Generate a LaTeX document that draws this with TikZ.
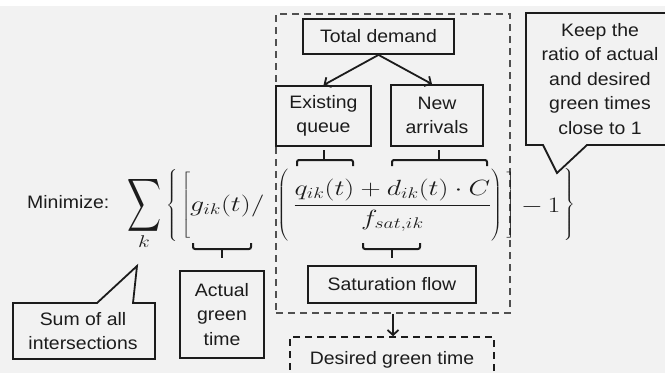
\RequirePackage{fix-cm}
\documentclass[tikz,border=0pt]{standalone}
\usepackage[no-math]{fontspec}
\setmainfont{Liberation Sans}[FakeStretch=1.08]
\usepackage{graphicx}
\usetikzlibrary{arrows.meta}

\definecolor{bg}{RGB}{242,242,242}
\definecolor{ink}{RGB}{28,28,28}
\definecolor{dashgray}{RGB}{80,80,80}

% widened math, and tall delimiters of a given total height
\newcommand\wide[1]{\scalebox{1.27}[1]{#1}}
\newcommand\tallfence[2]{\wide{$\delimiterfactor=1000\delimitershortfall=0pt\left#1\vcenter{\hbox{\rule{0pt}{#2}}}\right.$}}

\tikzset{
  lbl/.style={text=ink, align=center, inner sep=0pt, font=\fontsize{18}{24.5}\selectfont},
  box/.style={lbl, draw=ink, line width=1.8pt},
  mathnode/.style={inner sep=0pt, text=ink, font=\fontsize{22}{26}\selectfont},
  brace/.style={draw=ink, line width=2pt, rounded corners=2pt},
  link/.style={draw=ink, line width=1.8pt, -{Straight Barb[length=5pt,width=11pt]}},
  frame/.style={draw=dashgray, line width=2pt, dash pattern=on 7pt off 5pt},
  callout/.style={draw=ink, line width=1.8pt, line join=miter},
}

\begin{document}
\begin{tikzpicture}[x=1pt,y=-1pt]
\useasboundingbox (0,0) rectangle (665,373);
\clip (0,0) rectangle (665,373);
\fill[bg] (0,0) rectangle (665,373);
\fill[white] (0,0) rectangle (665,6);

% dashed frame around the desired-green-time term
\node[frame, minimum width=234pt, minimum height=299pt] (demand) at (393,163.5) {};

% demand breakdown
\node[box, minimum width=151pt, minimum height=35pt] (total) at (378.5,36.5) {Total demand};
\node[box, minimum width=95pt, minimum height=60pt] (queue) at (323.5,116) {Existing\\queue};
\node[box, minimum width=92pt, minimum height=61pt] (arrivals) at (437,115.5) {New\\arrivals};
\draw[link] (total.south) -- (queue.north);
\draw[link] (total.south) -- ([xshift=-5pt]arrivals.north);

% objective function
\node[lbl, anchor=base west] (minlabel) at (27,208) {Minimize:};
\node[mathnode] (sigma) at (145,205) {\resizebox{34pt}{50pt}{$\displaystyle\sum$}};
\node[mathnode, font=\fontsize{17}{20}\selectfont] (sumidx) at (144,242) {\wide{$k$}};
\node[mathnode] (lbrace) at (172.5,205) {\tallfence{\{}{70pt}};
\node[mathnode] (lbrack) at (186.5,205) {\tallfence{[}{66pt}};
\node[mathnode, anchor=base west] (green) at (190,211) {\wide{$g_{ik}(t)/$}};
\node[mathnode] (lparen) at (283.5,205) {\tallfence{(}{70pt}};
\node[mathnode, anchor=base] (ratio) at (392.5,210.5)
  {\wide{$\displaystyle\frac{q_{ik}(t)+d_{ik}(t)\cdot C}{f_{sat,ik}}$}};
\node[mathnode] (rparen) at (497.5,205) {\tallfence{)}{70pt}};
\node[mathnode] (rbrack) at (511.5,205) {\tallfence{]}{66pt}};
\node[mathnode, anchor=base west] (minusone) at (521,212) {\wide{$-\,1$}};
\node[mathnode] (rbrace) at (570,204) {\tallfence{\}}{68pt}};

% braces tying terms to their labels
\draw[brace] (297,166) -- (297,160) -- (353,160) -- (353,166);
\draw[brace] (queue.south |- 0,150) -- (queue.south |- 0,160);
\draw[brace] (392,166) -- (392,160) -- (487,160) -- (487,166);
\draw[brace] (439,150) -- (439,160);
\draw[brace] (193,243) -- (193,249) -- (251,249) -- (251,243);
\draw[brace] (222,249) -- (222,258);
\draw[brace] (363,243) -- (363,249) -- (420,249) -- (420,243);
\draw[brace] (392,249) -- (392,258);

\node[box, minimum width=168pt, minimum height=37pt] (sat) at (392,284.5) {Saturation flow};
\node[box, minimum width=84pt, minimum height=87pt] (actual) at (222,314.5) {Actual\\green\\time};

% desired green time
\node[lbl, draw=ink, line width=1.6pt, dash pattern=on 7pt off 5pt,
      minimum width=204pt, minimum height=46pt] (desired) at (392,360) {Desired green time};
\draw[link] (demand.south) -- (demand.south |- desired.north);

% callouts
\draw[callout] (526,13) -- (668,13) -- (668,145) -- (587,145) -- (557,173) -- (543,145) -- (526,145) -- cycle;
\node[lbl] (keepnote) at (600,79) {Keep the\\ratio of actual\\and desired\\green times\\close to 1};
\draw[callout] (13,303) -- (97,303) -- (137,266) -- (133,303) -- (155,303) -- (155,359) -- (13,359) -- cycle;
\node[lbl] (sumnote) at (83,331) {Sum of all\\intersections};
\end{tikzpicture}
\end{document}
